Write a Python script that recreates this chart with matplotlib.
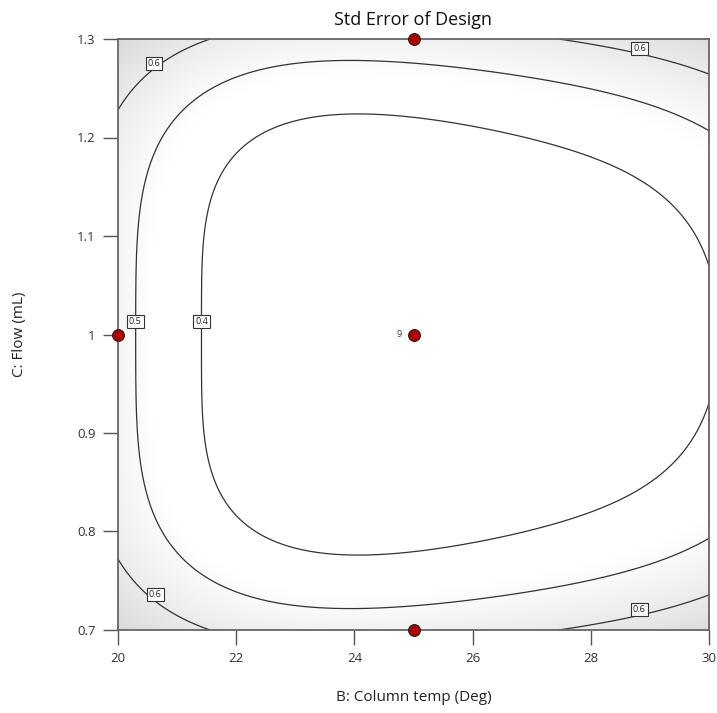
import numpy as np
import matplotlib
matplotlib.use('Agg')
import matplotlib.pyplot as plt
from matplotlib.colors import LinearSegmentedColormap

plt.rcParams['font.family'] = ['Open Sans', 'DejaVu Sans']

# design points on the B-C slice (centre point replicated 9 times)
design_B = [20, 25, 25, 25]
design_C = [1.0, 1.3, 0.7, 1.0]
center_reps = 9

# contour crossings: (B, C) for each std-error level
se_levels = [0.4, 0.5, 0.6]
se04_B = [21.42, 21.44, 21.44, 24.05, 22.24, 27.31, 21.81, 23.08, 30.0, 24.27, 22.24, 27.31, 30.0]
se04_C = [1.000, 1.096, 0.904, 1.224, 1.196, 1.194, 1.167, 1.218, 1.068, 0.777, 0.805, 0.806, 0.933]
se05_B = [20.29, 23.88, 22.24, 27.31, 20.51, 23.08, 30.0, 24.05, 22.24, 27.31, 30.0, 20.51]
se05_C = [1.000, 1.279, 1.266, 1.258, 1.167, 1.276, 1.207, 0.722, 0.734, 0.742, 0.793, 0.833]
se06_B = [20.0, 21.55, 27.40, 30.0, 20.0, 21.55, 27.40, 30.0]
se06_C = [1.228, 1.300, 1.300, 1.2655, 0.773, 0.700, 0.700, 0.7366]

# where the boxed contour labels sit
label_B = [20.61, 28.83, 20.63, 28.82, 20.29, 21.42]
label_C = [1.2756, 1.290, 0.7362, 0.721, 1.013, 1.013]
label_txt = ['0.6', '0.6', '0.6', '0.6', '0.5', '0.4']

B_lo, B_hi = 20, 30
C_lo, C_hi = 0.7, 1.3


def coded(B, C):
    return (np.asarray(B) - 25) / 5.0, (np.asarray(C) - 1.0) / 0.3


def terms(b, c):
    return np.column_stack([np.ones_like(b), b, b**2, b**3, b**4,
                            c**2, c**4, b * c**2, b**2 * c**2])


# fit variance surface (SE^2) through the read contour points
bs, cs, vs = [], [], []
for lev, Bs, Cs in zip(se_levels, [se04_B, se05_B, se06_B], [se04_C, se05_C, se06_C]):
    b, c = coded(Bs, Cs)
    bs.append(b); cs.append(c); vs.append(np.full(len(b), lev**2))
bs, cs, vs = np.concatenate(bs), np.concatenate(cs), np.concatenate(vs)
coef, *_ = np.linalg.lstsq(terms(bs, cs), vs, rcond=None)

Bg = np.linspace(B_lo, B_hi, 301)
Cg = np.linspace(C_lo, C_hi, 301)
BB, CC = np.meshgrid(Bg, Cg)
bb, cc = coded(BB.ravel(), CC.ravel())
SE = np.sqrt(np.clip(terms(bb, cc) @ coef, 0, None)).reshape(BB.shape)

fig = plt.figure(figsize=(7.17, 7.13), dpi=100)
ax = fig.add_axes([118 / 717, 83 / 713, 591 / 717, 591 / 713])

shade = LinearSegmentedColormap.from_list('shade', ['#ffffff', '#d2d2d2'])
ax.imshow(SE, extent=[B_lo, B_hi, C_lo, C_hi], origin='lower', aspect='auto',
          cmap=shade, vmin=0.47, vmax=0.76, interpolation='bilinear', zorder=0)
ax.contour(BB, CC, SE, levels=se_levels, colors='#333333', linewidths=0.9, zorder=1)

for x, y, t in zip(label_B, label_C, label_txt):
    ax.text(x, y, t, fontsize=6.5, ha='center', va='center', color='#222222', zorder=3,
            bbox=dict(boxstyle='square,pad=0.22', facecolor='white', edgecolor='#333333', linewidth=0.8))

ax.plot(design_B, design_C, 'o', color='#b00000', markeredgecolor='#222222',
        markeredgewidth=0.8, markersize=8.5, clip_on=False, zorder=4)
ax.annotate(str(center_reps), (25, 1.0), xytext=(-10, 0), textcoords='offset points',
            fontsize=6.5, ha='center', va='center', color='#333333')

ax.set_xlim(B_lo, B_hi)
ax.set_ylim(C_lo, C_hi)
ax.set_xticks([20, 22, 24, 26, 28, 30])
ax.set_yticks([0.7, 0.8, 0.9, 1.0, 1.1, 1.2, 1.3])
ax.set_yticklabels(['0.7', '0.8', '0.9', '1', '1.1', '1.2', '1.3'])
ax.tick_params(direction='out', length=11, width=1.0, color='#555555',
               labelsize=9.5, labelcolor='#333333', pad=5)
for s in ax.spines.values():
    s.set_color('#666666')
    s.set_linewidth(1.3)

ax.set_title('Std Error of Design', fontsize=13, color='#111111', pad=10)
ax.set_xlabel('B: Column temp (Deg)', fontsize=11, color='#222222', labelpad=18)
ax.set_ylabel('C: Flow (mL)', fontsize=11, color='#222222', labelpad=36)

fig.savefig('out.png', dpi=100)
